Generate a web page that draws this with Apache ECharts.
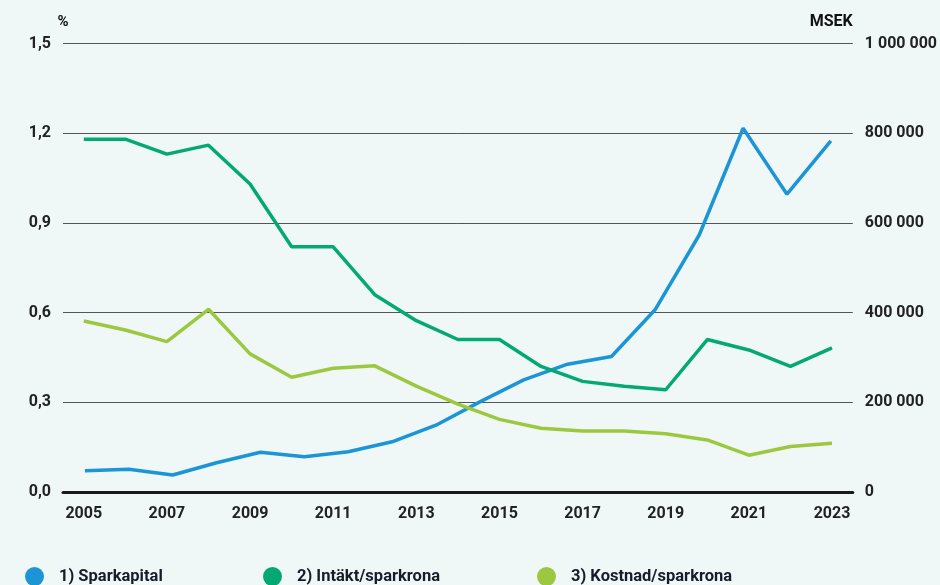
<!DOCTYPE html>
<html>
<head>
<meta charset="utf-8">
<script src="https://cdn.jsdelivr.net/npm/echarts@6/dist/echarts.min.js"></script>
<style>
  html, body { margin: 0; padding: 0; background: #eff8f7; }
  #main { width: 940px; height: 585px; }
</style>
</head>
<body>
<div id="main"></div>
<script>
// years on the x axis
const years = ['2005', '2006', '2007', '2008', '2009', '2010', '2011', '2012', '2013', '2014',
    '2015', '2016', '2017', '2018', '2019', '2020', '2021', '2022', '2023'];
// the Sparkapital line only has 18 points in the source chart
const sparkYears = ['2006', '2007', '2008', '2009', '2010', '2011', '2012', '2013', '2014',
    '2015', '2016', '2017', '2018', '2019', '2020', '2021', '2022', '2023'];

// MSEK, right axis
const sparkapital = [47500, 50600, 37900, 65300, 88500, 78700, 89900, 112000, 149000,
    201000, 250000, 285000, 302000, 407000, 573000, 811000, 664000, 783000];
// %, left axis
const intakt = [1.18, 1.18, 1.13, 1.16, 1.03, 0.82, 0.82, 0.66, 0.573, 0.51,
    0.51, 0.42, 0.37, 0.354, 0.342, 0.51, 0.475, 0.42, 0.482];
const kostnad = [0.572, 0.542, 0.503, 0.611, 0.462, 0.384, 0.414, 0.422, 0.354, 0.294,
    0.243, 0.213, 0.204, 0.204, 0.195, 0.174, 0.123, 0.152, 0.163];

const seriesNames = ['1) Sparkapital', '2) Intäkt/sparkrona', '3) Kostnad/sparkrona'];
const seriesColors = ['#1b95d5', '#04a873', '#9bc83e'];

const pctTicks = { min: 0, max: 1.5, interval: 0.3 };
const msekTicks = { min: 0, max: 1000000, interval: 200000 };

const labelStyle = {
    color: '#222',
    fontFamily: 'Roboto',
    fontWeight: 'bold',
    fontSize: 16
};

// one legend per item so each sits where the original put it
const legendLeft = [25, 263, 537];
const legends = seriesNames.map(function (name, i) {
    return {
        top: 567,
        left: legendLeft[i],
        padding: 0,
        icon: 'circle',
        itemWidth: 19,
        itemHeight: 19,
        textStyle: {
            color: '#1a1a2a',
            fontFamily: 'Roboto',
            fontWeight: 'bold',
            fontSize: 16.5,
            padding: [0, 0, 0, 10]
        },
        data: [name]
    };
});

const chart = echarts.init(document.getElementById('main'));

const option = {
    backgroundColor: '#eff8f7',
    animation: false,
    grid: { left: 63, right: 83, top: 43.5, bottom: 93 },
    xAxis: [{
        type: 'category',
        data: years,
        boundaryGap: true,
        axisLine: { lineStyle: { color: '#1a1a1a', width: 3 } },
        axisTick: { show: false },
        axisLabel: Object.assign({ interval: 1, margin: 14 }, labelStyle)
    }, {
        // hidden axis for the 18-point line
        type: 'category',
        data: sparkYears,
        boundaryGap: true,
        position: 'bottom',
        show: false
    }],
    yAxis: [{
        type: 'value',
        min: pctTicks.min,
        max: pctTicks.max,
        interval: pctTicks.interval,
        name: '%',
        nameGap: 14,
        nameTextStyle: Object.assign({}, labelStyle, { color: '#111', fontSize: 15 }),
        axisLine: { show: false },
        axisTick: { show: false },
        axisLabel: Object.assign({
            margin: 12,
            formatter: function (v) {
                return v.toFixed(1).replace('.', ',');
            }
        }, labelStyle),
        splitLine: { lineStyle: { color: '#555', width: 1 } }
    }, {
        type: 'value',
        min: msekTicks.min,
        max: msekTicks.max,
        interval: msekTicks.interval,
        name: 'MSEK',
        nameGap: 14,
        nameTextStyle: Object.assign({}, labelStyle, { color: '#111', align: 'right' }),
        axisLine: { show: false },
        axisTick: { show: false },
        axisLabel: Object.assign({
            margin: 12,
            formatter: function (v) {
                return String(v).replace(/\B(?=(\d{3})+(?!\d))/g, ' ');
            }
        }, labelStyle),
        splitLine: { show: false }
    }],
    legend: legends,
    series: [{
        name: seriesNames[0],
        type: 'line',
        xAxisIndex: 1,
        yAxisIndex: 1,
        data: sparkapital,
        symbol: 'none',
        color: seriesColors[0],
        lineStyle: { width: 3.5 }
    }, {
        name: seriesNames[1],
        type: 'line',
        xAxisIndex: 0,
        yAxisIndex: 0,
        data: intakt,
        symbol: 'none',
        color: seriesColors[1],
        lineStyle: { width: 3.5 }
    }, {
        name: seriesNames[2],
        type: 'line',
        xAxisIndex: 0,
        yAxisIndex: 0,
        data: kostnad,
        symbol: 'none',
        color: seriesColors[2],
        lineStyle: { width: 3.5 }
    }]
};

chart.setOption(option);
</script>
</body>
</html>
